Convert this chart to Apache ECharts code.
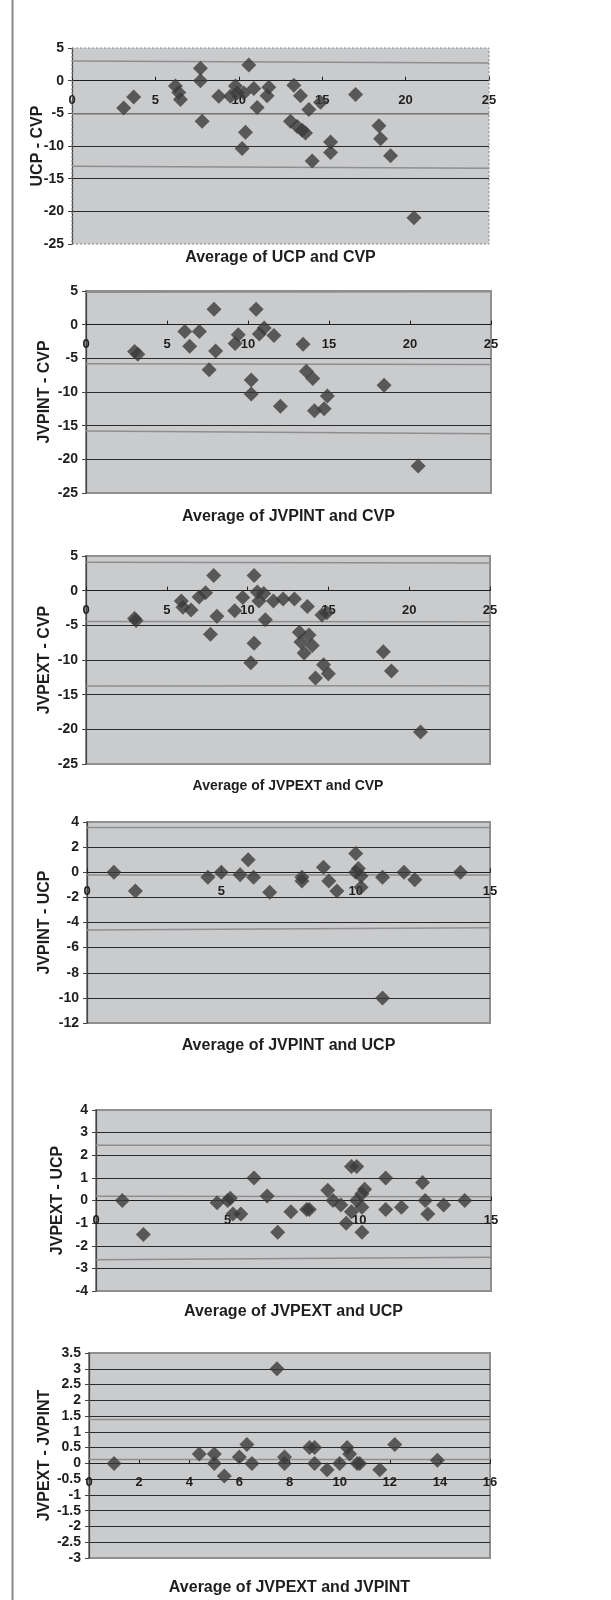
<!DOCTYPE html>
<html><head><meta charset="utf-8">
<script src="https://cdn.jsdelivr.net/npm/echarts@6/dist/echarts.min.js"></script>
<style>html,body{margin:0;padding:0;background:#fff}#c{width:611px;height:1600px}</style>
</head><body><div id="c"></div>
<script>
// ---------- DATA ----------
// Panel 1: UCP - CVP vs Average of UCP and CVP
const p1Points = [[3.1,-4.2],[3.7,-2.5],[6.2,-0.8],[6.4,-1.8],[6.5,-2.9],[7.7,1.9],[7.7,0],[7.8,-6.2],[8.8,-2.4],[9.5,-2.4],[9.8,-0.8],[9.9,-1.9],[10.3,-1.9],[10.2,-10.4],[10.4,-7.9],[10.6,2.4],[10.9,-1.2],[11.1,-4.1],[11.8,-1.0],[11.7,-2.3],[13.1,-6.2],[13.3,-0.7],[13.5,-7.0],[13.7,-2.3],[13.8,-7.6],[14.0,-8.0],[14.2,-4.4],[14.4,-12.3],[14.9,-3.3],[15.5,-9.4],[15.5,-11.0],[17.0,-2.1],[18.4,-6.9],[18.5,-8.9],[19.1,-11.5],[20.5,-21.0]];
const p1XTicks = [0,5,10,15,20,25];
const p1YTicks = [-25,-20,-15,-10,-5,0,5];
const p1LimitX = [0,25];
const p1Upper = [3.0,2.7];
const p1Mean = [-5.1,-5.1];
const p1Lower = [-13.1,-13.4];

// Panel 2: JVPINT - CVP
const p2Points = [[3.0,-4.0],[3.2,-4.4],[6.1,-1.0],[6.4,-3.2],[7.0,-1.0],[7.6,-6.7],[7.9,2.3],[8.0,-3.9],[9.2,-2.8],[9.4,-1.5],[10.2,-8.2],[10.2,-10.3],[10.5,2.3],[10.7,-1.4],[11.0,-0.5],[11.6,-1.6],[12.0,-12.1],[13.4,-2.9],[13.6,-6.9],[14.0,-8.0],[14.1,-12.8],[14.7,-12.5],[14.9,-10.6],[18.4,-9.0],[20.5,-21.0]];
const p2XTicks = [0,5,10,15,20,25];
const p2YTicks = [-25,-20,-15,-10,-5,0,5];
const p2LimitX = [0,25];
const p2Upper = [4.8,4.9];
const p2Mean = [-5.8,-5.9];
const p2Lower = [-15.8,-16.2];

// Panel 3: JVPEXT - CVP
const p3Points = [[3.0,-4.0],[3.1,-4.3],[5.9,-1.5],[6.0,-2.4],[6.5,-2.8],[7.0,-0.9],[7.4,-0.3],[7.7,-6.3],[7.9,2.2],[8.1,-3.7],[9.2,-2.9],[9.7,-1.0],[10.2,-10.4],[10.4,-7.6],[10.4,2.2],[10.6,-0.2],[10.7,-1.5],[11.0,-0.4],[11.1,-4.2],[11.6,-1.5],[12.2,-1.2],[12.9,-1.2],[13.2,-6.0],[13.3,-7.4],[13.5,-9.0],[13.7,-2.3],[13.8,-6.4],[14.0,-7.9],[14.2,-12.6],[14.6,-3.5],[14.7,-10.7],[14.9,-3.2],[15.0,-12.0],[18.4,-8.8],[18.9,-11.6],[20.7,-20.4]];
const p3XTicks = [0,5,10,15,20,25];
const p3YTicks = [-25,-20,-15,-10,-5,0,5];
const p3LimitX = [0,25];
const p3Upper = [4.1,4.0];
const p3Mean = [-4.45,-4.5];
const p3Lower = [-13.75,-13.7];

// Panel 4: JVPINT - UCP
const p4Points = [[1.0,0],[1.8,-1.5],[4.5,-0.4],[5.0,0],[5.7,-0.2],[6.0,1.0],[6.2,-0.4],[6.8,-1.6],[8.0,-0.4],[8.0,-0.7],[8.8,0.4],[9.0,-0.7],[9.3,-1.5],[10.0,1.5],[10.0,0],[10.1,0.3],[10.2,-0.3],[10.2,-1.2],[11.0,-0.4],[11.0,-10.0],[11.8,0],[12.2,-0.6],[13.9,0]];
const p4XTicks = [0,5,10,15];
const p4YTicks = [-12,-10,-8,-6,-4,-2,0,2,4];
const p4LimitX = [0,15];
const p4Upper = [3.57,3.57];
const p4Mean = [-0.22,-0.22];
const p4Lower = [-4.6,-4.42];

// Panel 5: JVPEXT - UCP
const p5Points = [[1.0,0],[1.8,-1.5],[4.6,-0.1],[5.0,0],[5.1,0.1],[5.2,-0.6],[5.5,-0.6],[6.0,1.0],[6.5,0.2],[6.9,-1.4],[7.4,-0.5],[8.0,-0.4],[8.1,-0.4],[8.8,0.45],[9.0,0],[9.3,-0.2],[9.5,-1.0],[9.7,1.5],[9.9,1.5],[9.7,-0.5],[9.9,0],[10.1,0.3],[10.2,0.5],[10.1,-0.3],[10.1,-1.4],[11.0,1.0],[11.0,-0.4],[11.6,-0.3],[12.4,0.8],[12.5,0],[12.6,-0.6],[13.2,-0.2],[14.0,0]];
const p5XTicks = [0,5,10,15];
const p5YTicks = [-4,-3,-2,-1,0,1,2,3,4];
const p5LimitX = [0,15];
const p5Upper = [2.44,2.44];
const p5Mean = [0.19,0.17];
const p5Lower = [-2.62,-2.51];

// Panel 6: JVPEXT - JVPINT
const p6Points = [[1.0,0],[4.4,0.3],[5.0,0.3],[5.0,0],[5.4,-0.4],[6.0,0.2],[6.3,0.6],[6.5,0],[7.5,3.0],[7.8,0.2],[7.8,0],[8.8,0.5],[9.0,0.5],[9.0,0],[9.5,-0.2],[10.0,0],[10.3,0.5],[10.4,0.3],[10.7,0],[10.8,0],[11.6,-0.2],[12.2,0.6],[13.9,0.1]];
const p6XTicks = [0,2,4,6,8,10,12,14,16];
const p6YTicks = [-3,-2.5,-2,-1.5,-1,-0.5,0,0.5,1,1.5,2,2.5,3,3.5];
const p6LimitX = [0,16];
const p6Upper = [1.39,1.39];
const p6Mean = [0.12,0.12];

// ---------- LAYOUT ----------
const FONT = '"Liberation Sans", Arial, Helvetica, sans-serif';
const panels = [
  {pts:p1Points, xt:p1XTicks, yt:p1YTicks, lx:p1LimitX, lines:[p1Upper,p1Mean,p1Lower], yName:'UCP - CVP', xName:'Average of UCP and CVP',
   grid:{left:72,top:48,width:417,height:196}, gap:26, titleY:258, titleSize:16, dotted:true},
  {pts:p2Points, xt:p2XTicks, yt:p2YTicks, lx:p2LimitX, lines:[p2Upper,p2Mean,p2Lower], yName:'JVPINT - CVP', xName:'Average of JVPINT and CVP',
   grid:{left:86,top:291,width:405,height:202}, gap:33, titleY:517, titleSize:16},
  {pts:p3Points, xt:p3XTicks, yt:p3YTicks, lx:p3LimitX, lines:[p3Upper,p3Mean,p3Lower], yName:'JVPEXT - CVP', xName:'Average of JVPEXT and CVP',
   grid:{left:86,top:556,width:404,height:208}, gap:33, titleY:786, titleSize:14},
  {pts:p4Points, xt:p4XTicks, yt:p4YTicks, lx:p4LimitX, lines:[p4Upper,p4Mean,p4Lower], yName:'JVPINT - UCP', xName:'Average of JVPINT and UCP',
   grid:{left:87,top:822,width:403,height:201}, gap:34, titleY:1046, titleSize:16},
  {pts:p5Points, xt:p5XTicks, yt:p5YTicks, lx:p5LimitX, lines:[p5Upper,p5Mean,p5Lower], yName:'JVPEXT - UCP', xName:'Average of JVPEXT and UCP',
   grid:{left:96,top:1110,width:395,height:181}, gap:30, titleY:1312, titleSize:16},
  {pts:p6Points, xt:p6XTicks, yt:p6YTicks, lx:p6LimitX, lines:[p6Upper,p6Mean], yName:'JVPEXT - JVPINT', xName:'Average of JVPEXT and JVPINT',
   grid:{left:89,top:1353,width:401,height:205}, gap:36, titleY:1588, titleSize:16}
];

const option = {animation:false, backgroundColor:'#fff', grid:[], xAxis:[], yAxis:[], series:[], graphic:[]};

option.graphic.push({type:'line', shape:{x1:12.5,y1:0,x2:12.5,y2:1600}, style:{stroke:'#8a8a8a', lineWidth:2}, z:10});

panels.forEach((p,i)=>{
  option.grid.push(Object.assign({show:true, backgroundColor:'#cacbcd', borderColor:'#8f8f8f', borderWidth:p.dotted?0:2}, p.grid));
  if (p.dotted) {
    option.graphic.push({type:'rect', shape:{x:p.grid.left, y:p.grid.top, width:p.grid.width, height:p.grid.height},
      style:{fill:null, stroke:'#888', lineWidth:1, lineDash:[2,2]}, z:5});
  }
  const xi = p.xt, yi = p.yt;
  const ymin = yi[0], ymax = yi[yi.length-1];
  // x axis sits on y = 0 (axis, ticks and labels together)
  const zeroOffset = -p.grid.height * (0 - ymin) / (ymax - ymin);
  option.xAxis.push({type:'value', gridIndex:i, min:xi[0], max:xi[xi.length-1], interval:xi[1]-xi[0],
    position:'bottom', offset:zeroOffset,
    axisLine:{show:true, onZero:false, lineStyle:{color:'#1e1e1e', width:1.2}},
    axisTick:{show:true, inside:true, length:4, lineStyle:{color:'#1e1e1e'}},
    axisLabel:{show:true, margin:13, color:'#1e1e1e', fontFamily:FONT, fontWeight:'bold', fontSize:13},
    splitLine:{show:false}});
  option.yAxis.push({type:'value', gridIndex:i, min:ymin, max:ymax, interval:yi[1]-yi[0],
    name:p.yName, nameLocation:'middle', nameRotate:90, nameGap:p.gap, nameMoveOverlap:false,
    nameTextStyle:{fontFamily:FONT, fontWeight:'bold', fontSize:16, color:'#1e1e1e'},
    axisLine:{show:true, lineStyle:{color:'#444', width:1.2}},
    axisTick:{show:true, length:4, lineStyle:{color:'#444'}},
    axisLabel:{margin:8, color:'#1e1e1e', fontFamily:FONT, fontWeight:'bold', fontSize:14},
    splitLine:{show:true, showMinLine:false, showMaxLine:false, lineStyle:{color:'#2a2a2a', width:1}}});
  p.lines.forEach(l=>{
    option.series.push({type:'line', xAxisIndex:i, yAxisIndex:i, data:p.lx.map((x,k)=>[x,l[k]]),
      showSymbol:false, symbol:'none', silent:true, z:2, lineStyle:{color:'#8e8e8e', width:1.5}});
  });
  option.series.push({type:'scatter', xAxisIndex:i, yAxisIndex:i, data:p.pts, symbol:'diamond', symbolSize:15,
    itemStyle:{color:'#3b3b3b'}, z:3});
  option.graphic.push({type:'text', x:p.grid.left + p.grid.width/2, y:p.titleY,
    style:{text:p.xName, font:'bold '+p.titleSize+'px '+FONT, fill:'#1e1e1e', textAlign:'center', textVerticalAlign:'middle', verticalAlign:'middle'}});
});

const chart = echarts.init(document.getElementById('c'), null, {renderer:'canvas', width:611, height:1600});
chart.setOption(option);
</script>
</body></html>
